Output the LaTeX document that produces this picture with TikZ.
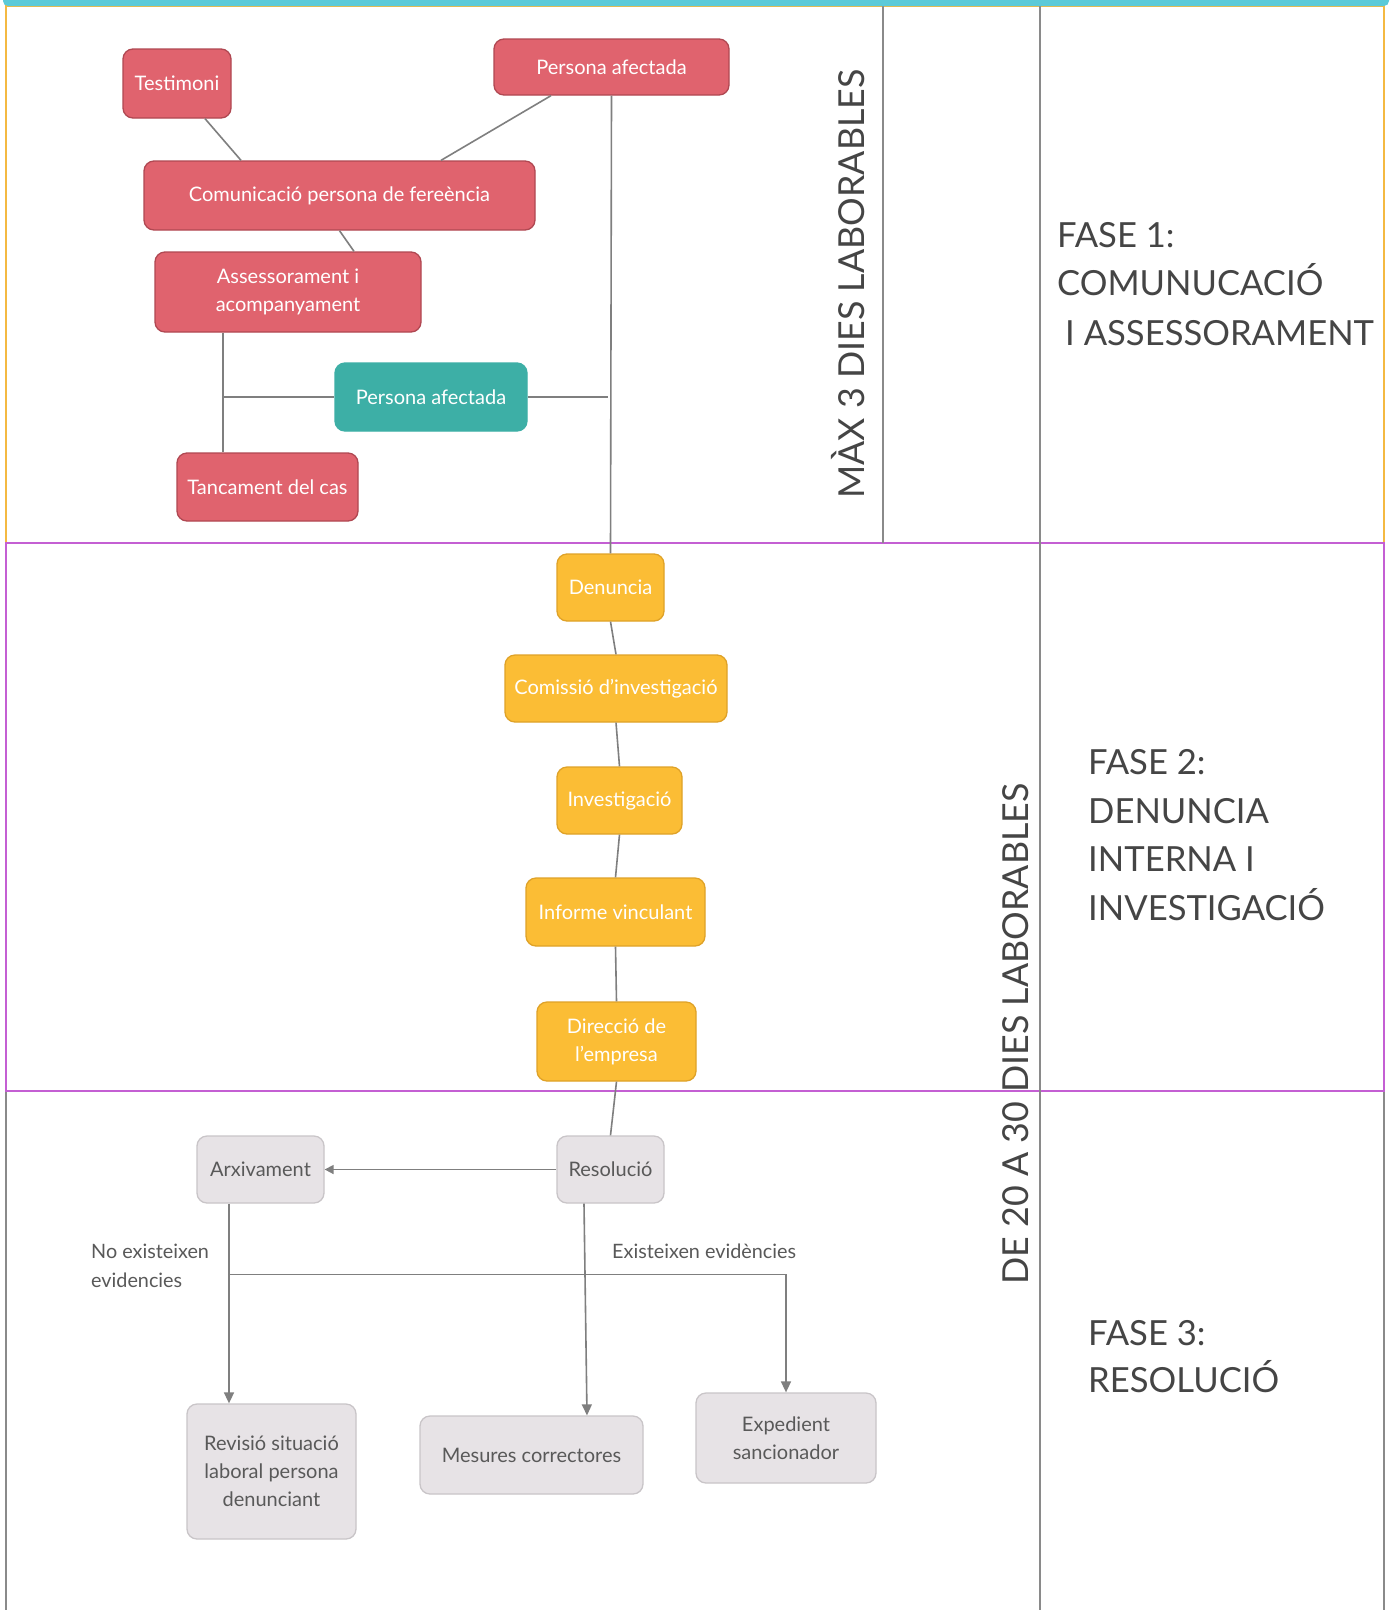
\documentclass[tikz,border=0pt]{standalone}
\usepackage{fontspec}
\setmainfont{Lato}
\usetikzlibrary{arrows.meta,calc}
\definecolor{redfill}{HTML}{E0636E}
\definecolor{redline}{HTML}{B04852}
\definecolor{tealfill}{HTML}{3DAFA6}
\definecolor{orfill}{HTML}{FBBD35}
\definecolor{orline}{HTML}{DFA228}
\definecolor{grfill}{HTML}{E7E3E6}
\definecolor{grline}{HTML}{C9C5C8}
\definecolor{grtext}{HTML}{595959}
\definecolor{topbar}{HTML}{5BCAD8}
\definecolor{ph1}{HTML}{F4B942}
\definecolor{ph2}{HTML}{C45FD3}
\definecolor{ph3}{HTML}{8A8A8A}
\definecolor{conn}{HTML}{7F7F7F}
\definecolor{phtext}{HTML}{454545}
\begin{document}
\begin{tikzpicture}[x=1pt,y=-1pt,
  box/.style={rounded corners=10pt, inner sep=0pt, align=center, line width=1.3pt,
    font=\fontsize{20}{28}\selectfont},
  redbox/.style={box, fill=redfill, draw=redline, text=white},
  tealbox/.style={box, fill=tealfill, draw=tealfill, text=white},
  orbox/.style={box, fill=orfill, draw=orline, text=white},
  grbox/.style={box, fill=grfill, draw=grline, text=grtext},
  link/.style={draw=conn, line width=1.6pt},
  arr/.style={link, -{Triangle[length=11pt,width=10pt]}},
  phase/.style={anchor=base west, inner sep=0pt, text=phtext, font=\fontsize{34.6}{40}\selectfont},
  days/.style={rotate=90, inner sep=0pt, text=phtext, font=\fontsize{35.8}{40}\selectfont},
  lbl/.style={anchor=base west, inner sep=0pt, text=grtext, font=\fontsize{19.8}{28}\selectfont},
]
\useasboundingbox (0,0) rectangle (1392,1610);
\fill[white] (0,0) rectangle (1392,1610);

% phase frames
\draw[ph3, line width=1.3pt] (6,1091) -- (6,1620) (1384,1091) -- (1384,1620);
\draw[ph1, line width=1.5pt] (6,6) rectangle (1384,543);
\draw[ph2, line width=1.5pt] (6,543) rectangle (1384,1091);
\draw[ph3, line width=1.3pt] (883,0) -- (883,543);
\draw[ph3, line width=1.3pt] (1040,0) -- (1040,1620);
% top bar
\fill[topbar, rounded corners=5pt] (3,-10) rectangle (1389,6);

% phase 1 nodes
\node[redbox, minimum width=108, minimum height=69] (testimoni) at (177,83.5) {Testimoni};
\node[redbox, minimum width=235, minimum height=56] (pa1) at (611.5,67) {Persona afectada};
\node[redbox, minimum width=391, minimum height=69] (com) at (339.5,195.5) {Comunicació persona de fereència};
\node[redbox, minimum width=266, minimum height=80] (ass) at (288,292) {Assessorament i\\acompanyament};
\node[tealbox, minimum width=192, minimum height=68] (pa2) at (431,397) {Persona afectada};
\node[redbox, minimum width=181, minimum height=68] (tanc) at (267.5,487) {Tancament del cas};

% phase 2 nodes
\node[orbox, minimum width=107, minimum height=67] (den) at (610.5,587.5) {Denuncia};
\node[orbox, minimum width=222, minimum height=67] (cominv) at (616,688.5) {Comissió d’investigació};
\node[orbox, minimum width=125, minimum height=67] (inv) at (619.5,800.5) {Investigació};
\node[orbox, minimum width=179, minimum height=68] (inf) at (615.5,912) {Informe vinculant};
\node[orbox, minimum width=159, minimum height=79] (dir) at (616.5,1041.5) {Direcció de\\l'empresa};

% phase 3 nodes
\node[grbox, minimum width=127, minimum height=67] (arx) at (260.5,1169.5) {Arxivament};
\node[grbox, minimum width=107, minimum height=67] (res) at (610.5,1169.5) {Resolució};
\node[grbox, minimum width=169, minimum height=135] (rev) at (271.5,1471.5) {Revisió situació\\laboral persona\\denunciant};
\node[grbox, minimum width=223, minimum height=78] (mes) at (531.5,1455) {Mesures correctores};
\node[grbox, minimum width=180, minimum height=90] (exp) at (786,1438) {Expedient\\sancionador};

% phase 1 connectors
\draw[link] ($(testimoni.south)+(28,0)$) -- ($(com.north)+(-98.5,0)$);
\draw[link] ($(pa1.south)+(-60.5,0)$) -- ($(com.north)+(101.5,0)$);
\draw[link] (com.south) -- ($(ass.north)+(66,0)$);
\coordinate (asd) at ($(ass.south)+(-65,0)$);
\draw[link] (asd) -- (asd |- tanc.north);
\draw[link] (asd |- pa2.west) -- (pa2.west);
\coordinate (vline) at (pa1.south);
\draw[link] (pa2.east) -- ($(vline |- pa2.east)+(-4,0)$);
\draw[link] (pa1.south) -- (den.north);

% phase 2 connectors
\draw[link] (den.south) -- (cominv.north);
\draw[link] (cominv.south) -- (inv.north);
\draw[link] (inv.south) -- (inf.north);
\draw[link] (inf.south) -- (dir.north);
\draw[link] (dir.south) -- (res.north);

% phase 3 connectors
\draw[link, -{Triangle[length=9pt,width=9pt]}] (res.west) -- (arx.east);
\coordinate (arxd) at ($(arx.south)+(-31.5,0)$);
\draw[arr] (arxd) -- (arxd |- rev.north);
\coordinate (br) at ($(arxd)+(0,71)$);
\draw[arr] (br) -| (exp.north);
\draw[arr] ($(res.south)+(-26.5,0)$) -- ($(mes.north)+(55.5,0)$);

% labels
\node[lbl] (noev1) at (91,1258) {No existeixen};
\node[lbl] (noev2) at (91,1287) {evidencies};
\node[lbl] (ev) at (612,1258) {Existeixen evidències};

% day labels
\node[days] (d1) at (848,284) {MÀX 3 DIES LABORABLES};
\node[days] (d2) at (1016,1034) {DE 20 A 30 DIES LABORABLES};

% phase titles
\node[phase] (f1a) at (1057,247) {FASE 1:};
\node[phase] (f1b) at (1057,295) {COMUNUCACIÓ};
\node[phase] (f1c) at (1065,345) {I ASSESSORAMENT};
\node[phase] (f2a) at (1088,774) {FASE 2:};
\node[phase] (f2b) at (1088,823) {DENUNCIA};
\node[phase] (f2c) at (1088,871) {INTERNA I};
\node[phase] (f2d) at (1088,920) {INVESTIGACIÓ};
\node[phase] (f3a) at (1088,1345) {FASE 3:};
\node[phase] (f3b) at (1088,1392) {RESOLUCIÓ};
\end{tikzpicture}
\end{document}
